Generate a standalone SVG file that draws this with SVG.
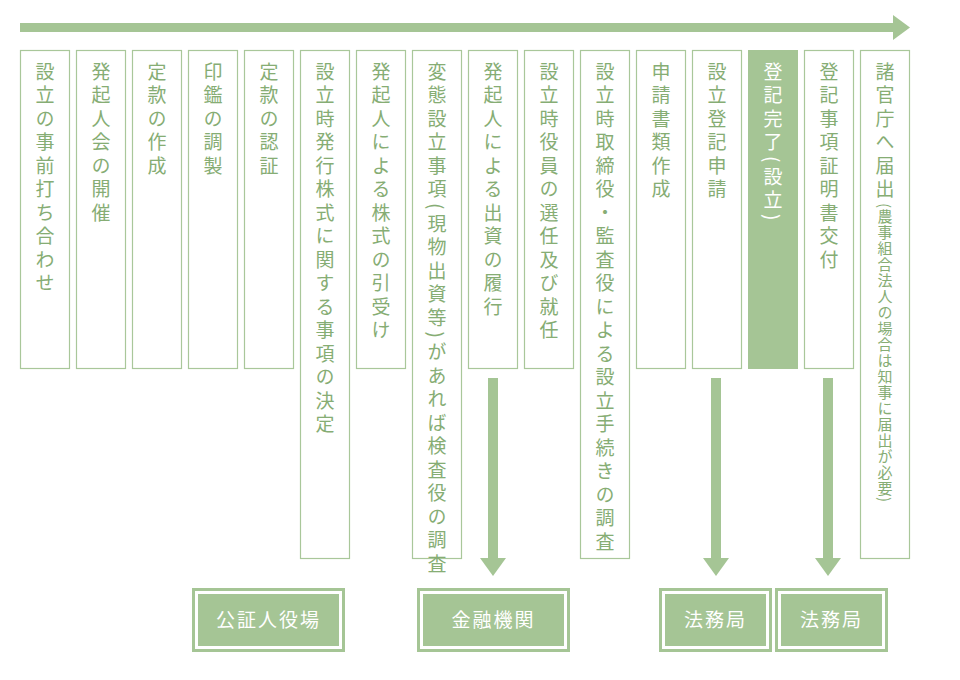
<svg xmlns="http://www.w3.org/2000/svg" width="960" height="680" viewBox="0 0 960 680">
<style>
.c{fill:#fff;stroke:#a9c79a;stroke-width:1.2}
.f{fill:#a5c595;stroke:#a5c595}
.t{font-family:"Noto Sans CJK JP",sans-serif;font-size:19px;fill:#86ad74;writing-mode:vertical-rl;letter-spacing:4.5px}
.w{fill:#fff}
.s{font-size:15px;letter-spacing:1px}
.b{font-family:"Noto Sans CJK JP",sans-serif;font-size:19px;fill:#fff;text-anchor:middle;letter-spacing:2px}
</style>
<g id="connectors" fill="#a5c595">
<rect x="20" y="23" width="876" height="9"/><polygon points="893,15 910,27.5 893,40"/>
<rect x="488" y="378" width="10" height="182"/><polygon points="480,558 506,558 493,576"/>
<rect x="711" y="378" width="10" height="182"/><polygon points="703,558 729,558 716,576"/>
<rect x="823" y="378" width="10" height="182"/><polygon points="815,558 841,558 828,576"/>
</g>
<g id="n1"><rect class="c" x="20.5" y="50.5" width="49" height="318"/><text class="t" x="45" y="62">設立の事前打ち合わせ</text></g>
<g id="n2"><rect class="c" x="76.5" y="50.5" width="49" height="318"/><text class="t" x="101" y="62">発起人会の開催</text></g>
<g id="n3"><rect class="c" x="132.5" y="50.5" width="49" height="318"/><text class="t" x="157" y="62">定款の作成</text></g>
<g id="n4"><rect class="c" x="188.5" y="50.5" width="49" height="318"/><text class="t" x="213" y="62">印鑑の調製</text></g>
<g id="n5"><rect class="c" x="244.5" y="50.5" width="49" height="318"/><text class="t" x="269" y="62">定款の認証</text></g>
<g id="n6"><rect class="c" x="300.5" y="50.5" width="49" height="508"/><text class="t" x="325" y="62">設立時発行株式に関する事項の決定</text></g>
<g id="n7"><rect class="c" x="356.5" y="50.5" width="49" height="318"/><text class="t" x="381" y="62">発起人による株式の引受け</text></g>
<g id="n8"><rect class="c" x="412.5" y="50.5" width="49" height="508"/><text class="t" x="437" y="62">変態設立事項(現物出資等)があれば検査役の調査</text></g>
<g id="n9"><rect class="c" x="468.5" y="50.5" width="49" height="318"/><text class="t" x="493" y="62">発起人による出資の履行</text></g>
<g id="n10"><rect class="c" x="524.5" y="50.5" width="49" height="318"/><text class="t" x="549" y="62">設立時役員の選任及び就任</text></g>
<g id="n11"><rect class="c" x="580.5" y="50.5" width="49" height="508"/><text class="t" x="605" y="62">設立時取締役・監査役による設立手続きの調査</text></g>
<g id="n12"><rect class="c" x="636.5" y="50.5" width="49" height="318"/><text class="t" x="661" y="62">申請書類作成</text></g>
<g id="n13"><rect class="c" x="692.5" y="50.5" width="49" height="318"/><text class="t" x="717" y="62">設立登記申請</text></g>
<g id="n14"><rect class="f" x="748.5" y="50.5" width="49" height="318"/><text class="t w" x="773" y="62">登記完了(設立)</text></g>
<g id="n15"><rect class="c" x="804.5" y="50.5" width="49" height="318"/><text class="t" x="829" y="62">登記事項証明書交付</text></g>
<g id="n16"><rect class="c" x="860.5" y="50.5" width="49" height="508"/><text class="t" x="885" y="62">諸官庁へ届出<tspan class="s">(農事組合法人の場合は知事に届出が必要)</tspan></text></g>
<g id="b1"><rect x="193.5" y="589.5" width="150" height="61" fill="#fff" stroke="#a5c595" stroke-width="3"/><rect x="198" y="594" width="141" height="52" fill="#a5c595"/><text class="b" x="268.5" y="627">公証人役場</text></g>
<g id="b2"><rect x="418.5" y="589.5" width="150" height="61" fill="#fff" stroke="#a5c595" stroke-width="3"/><rect x="423" y="594" width="141" height="52" fill="#a5c595"/><text class="b" x="493.5" y="627">金融機関</text></g>
<g id="b3"><rect x="660.5" y="589.5" width="110" height="61" fill="#fff" stroke="#a5c595" stroke-width="3"/><rect x="665" y="594" width="101" height="52" fill="#a5c595"/><text class="b" x="715.5" y="627">法務局</text></g>
<g id="b4"><rect x="776.5" y="589.5" width="110" height="61" fill="#fff" stroke="#a5c595" stroke-width="3"/><rect x="781" y="594" width="101" height="52" fill="#a5c595"/><text class="b" x="831.5" y="627">法務局</text></g>
</svg>
